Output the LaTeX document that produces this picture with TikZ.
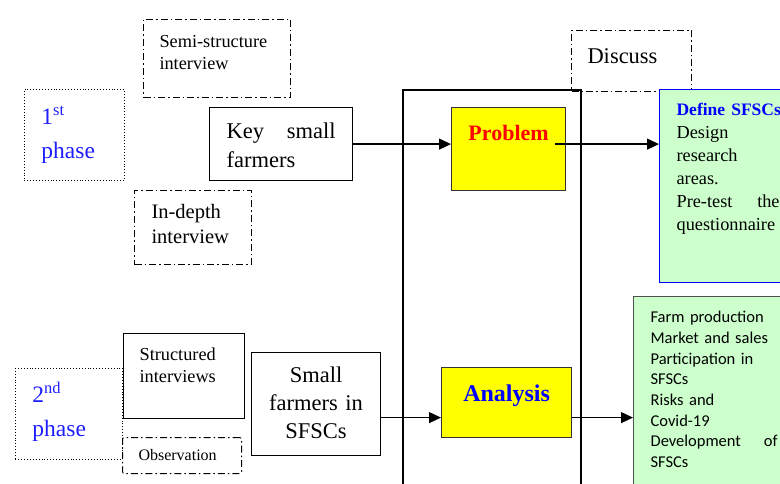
\documentclass[tikz,border=0pt]{standalone}
\usepackage{fontspec}
\setmainfont{Liberation Serif}
\newfontfamily\calibri{Carlito}
\usetikzlibrary{arrows.meta}

\definecolor{phaseblue}{RGB}{30,30,255}
\definecolor{boxyellow}{RGB}{255,255,0}
\definecolor{palegreen}{RGB}{204,255,204}
\definecolor{greenedge}{RGB}{80,80,80}

\tikzstyle{solidbox} = [
    draw=black,
    line width=1.2pt,
    anchor=north west,
    inner sep=0pt,
    align=left
]
\tikzstyle{dashdotbox} = [
    draw=black,
    line width=1pt,
    dash pattern=on 7pt off 3pt on 1.5pt off 3pt,
    anchor=north west,
    inner sep=0pt,
    align=left
]
\tikzstyle{phasebox} = [
    draw=black,
    line width=0.9pt,
    dotted,
    anchor=north west,
    inner sep=0pt,
    align=left,
    text=phaseblue,
    font=\fontsize{23.5}{34}\selectfont
]
\tikzstyle{yellowbox} = [
    draw=black!80,
    line width=1.2pt,
    fill=boxyellow,
    anchor=north west,
    inner sep=0pt,
    align=center
]
\tikzstyle{greenbox} = [
    fill=palegreen,
    line width=1.2pt,
    anchor=north west,
    inner sep=0pt,
    align=left
]
\tikzstyle{arrow} = [line width=1.2pt,-{Triangle[length=12pt,width=11pt]}]

\begin{document}
\begin{tikzpicture}[x=1pt,y=-1pt]
\useasboundingbox (0,0) rectangle (780,484);
\clip (0,0) rectangle (780,484);

% first phase
\node (ph1) [phasebox, text width=66pt, inner xsep=17pt,
    text height=35pt, text depth=56pt] at (24,89)
{1\textsuperscript{st}\\phase};

\node (semi) [dashdotbox, text width=115pt, inner xsep=16pt,
    text height=28pt, text depth=50pt,
    font=\fontsize{18.3}{22}\selectfont] at (143,19)
{Semi-structure\\interview};

\node (key) [solidbox, text width=109pt, inner xsep=17pt,
    text height=31pt, text depth=42pt,
    font=\fontsize{22.5}{29}\selectfont] at (209,107)
{Key\hfill small\\farmers};

\node (indepth) [dashdotbox, text width=83pt, inner xsep=17pt,
    text height=28pt, text depth=46pt,
    font=\fontsize{20.5}{25}\selectfont] at (134,190)
{In-depth\\interview};

% middle frame
\node (frame) [draw=black, line width=2pt, anchor=north west, inner sep=0pt,
    minimum width=178pt, minimum height=410pt] at (402,89) {};

\node (discuss) [dashdotbox, text width=88pt, inner xsep=16pt,
    text height=33pt, text depth=28pt,
    font=\fontsize{22.5}{26}\selectfont] at (571,30)
{Discuss};

\node (prob) [yellowbox, text width=114pt, inner xsep=0pt,
    text height=33pt, text depth=50pt, text=red,
    font=\bfseries\fontsize{22}{26}\selectfont] at (451,107)
{Problem};

\node (def) [greenbox, draw=blue, text width=103pt, inner xsep=17pt,
    text height=26pt, text depth=167pt,
    font=\fontsize{18.3}{23}\selectfont] at (659,89)
{\hbox{\bfseries\color{blue}\fontsize{17.5}{23}\selectfont Define SFSCs}\\Design\\research\\areas.\\Pre-test\hfill the\\questionnaire};

% second phase
\node (ph2) [phasebox, text width=73pt, inner xsep=17pt,
    text height=34pt, text depth=57pt] at (15,368)
{2\textsuperscript{nd}\\phase};

\node (struct) [solidbox, text width=89pt, inner xsep=16pt,
    text height=27pt, text depth=58pt,
    font=\fontsize{18.3}{22}\selectfont] at (123,333)
{Structured\\interviews};

\node (obs) [dashdotbox, rounded corners=2pt, text width=87pt, inner xsep=16pt,
    text height=23pt, text depth=13pt,
    font=\fontsize{16}{18}\selectfont] at (122,437)
{Observation};

\node (small) [solidbox, align=center, text width=129pt, inner xsep=0pt,
    text height=30pt, text depth=73pt,
    font=\fontsize{22.5}{28}\selectfont] at (251,352)
{Small\\farmers in\\SFSCs};

\node (ana) [yellowbox, text width=126pt, inner xsep=2pt,
    text height=34pt, text depth=36pt, text=blue,
    font=\bfseries\fontsize{24}{28}\selectfont] at (441,367)
{Analysis};

\node (out) [greenbox, draw=greenedge, text width=127pt, inner xsep=17pt,
    text height=26pt, text depth=178pt,
    font=\calibri\fontsize{16.5}{20.7}\selectfont] at (633,296)
{Farm production\\Market and sales\\Participation in\\SFSCs\\Risks and\\Covid-19\\Development\hfill of\\SFSCs};

\draw [arrow] (key.east) -- (key.east -| prob.west);
\draw [arrow] ([xshift=-11pt]key.east -| prob.east) -- (key.east -| def.west);

\draw [arrow] ([yshift=-13.5pt]small.east) -- ([yshift=-13.5pt]small.east -| ana.west);
\draw [arrow] ([yshift=-13.5pt]small.east -| ana.east) -- ([yshift=-13.5pt]small.east -| out.west);

\end{tikzpicture}
\end{document}
